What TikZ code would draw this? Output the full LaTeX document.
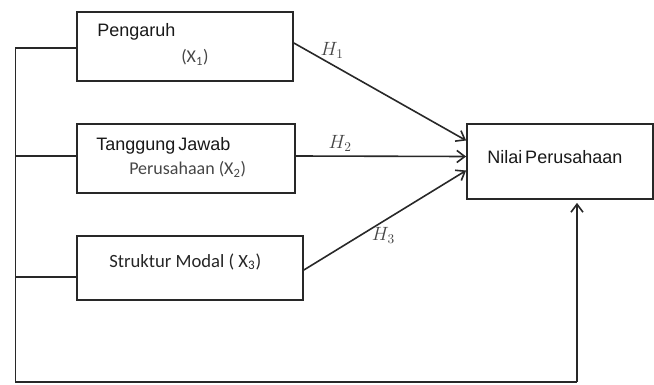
\documentclass[tikz,border=0pt]{standalone}
\usepackage{fontspec}
\setmainfont{Liberation Sans}
\newfontfamily\calfont{Carlito}
\usetikzlibrary{arrows.meta, positioning, calc}
\definecolor{mydark}{RGB}{40,40,40}
\definecolor{mygray}{RGB}{70,70,70}
\tikzset{
  varbox/.style={rectangle, draw=mydark, line width=1.3pt, inner sep=0pt},
  boxtext/.style={anchor=base west, inner sep=0pt, font=\fontsize{13.5}{16}\selectfont, text=black!90},
  caltext/.style={anchor=base west, inner sep=0pt, font=\calfont\fontsize{13.5}{16}\selectfont, text=mygray},
  hlabel/.style={font=\fontsize{14}{16}\selectfont, text=mygray, inner sep=1pt},
  arrow/.style={-{Straight Barb[length=6pt, width=9pt]}, line width=1.2pt, color=mydark},
  line/.style={line width=1.2pt, color=mydark}
}
\begin{document}
\begin{tikzpicture}[x=0.75pt, y=-0.75pt]
  \useasboundingbox (0,0) rectangle (654,385);

  % Variable boxes
  \node[varbox, minimum width=162pt, minimum height=51.75pt] (pengaruh) at (185,46.5) {};
  \node[varbox, minimum width=163.5pt, minimum height=51.75pt] (tanggung) at (186,158.5) {};
  \node[varbox, minimum width=169.5pt, minimum height=48pt] (struktur) at (190,268) {};
  \node[varbox, minimum width=139.5pt, minimum height=56.25pt] (nilai) at (560,161.5) {};

  % Box texts
  \node[boxtext] (t1) at (97,37) {Pengaruh};
  \node[caltext] (t1b) at (181,63) {(X\textsubscript{1})};
  \node[boxtext] (t2) at (96,151) {Tanggung\,Jawab};
  \node[caltext] (t2b) at (129,175) {Perusahaan (X\textsubscript{2})};
  \node[caltext, text=black!85, font=\calfont\fontsize{14}{16}\selectfont] (t3) at (109,267) {Struktur Modal ( X\textsubscript{3})};
  \node[boxtext] (t4) at (487,164) {Nilai\,Perusahaan};

  % Hypotheses
  \draw[arrow] ($(pengaruh.east)+(0,-3.5)$) -- node[hlabel, pos=0.19, above right=1pt and -6pt] {$H_1$} ($(nilai.west)+(0,-21)$);
  \draw[arrow] ($(tanggung.east)+(0,-2.5)$) -- node[hlabel, pos=0.26, above=2pt] {$H_2$} ($(nilai.west)+(0,-5)$);
  \draw[arrow] ($(struktur.east)+(0,2)$) -- node[hlabel, pos=0.49, below=3pt] {$H_3$} ($(nilai.west)+(0,9)$);

  % Feedback line
  \coordinate (busTop) at (15.5,48);
  \coordinate (busBot) at (15.5,382);
  \coordinate (turn) at (577,382);
  \draw[line] (pengaruh.west |- busTop) -- (busTop) -- (busBot) -- (turn);
  \draw[line] ($(tanggung.west)+(0,-2.5)$) -- (busTop |- {$(tanggung.west)+(0,-2.5)$});
  \draw[line] ($(struktur.west)+(0,9)$) -- (busTop |- {$(struktur.west)+(0,9)$});
  \draw[arrow] (turn) -- ($(turn |- nilai.south)+(0,3)$);
\end{tikzpicture}
\end{document}
